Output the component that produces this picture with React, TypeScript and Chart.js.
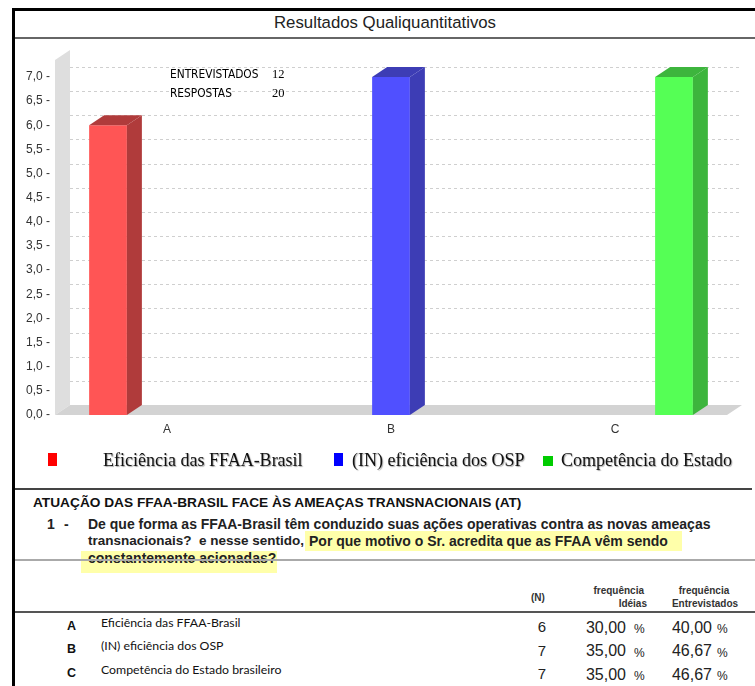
import React, { useEffect, useRef } from "react";
import { Chart, registerables } from "chart.js";

Chart.register(...registerables);

// ---------- data ----------
const CATEGORIES = ["A", "B", "C"];
const SERIES_NAMES = [
  "Eficiência das FFAA-Brasil",
  "(IN) eficiência dos OSP",
  "Competência do Estado",
];
const SERIES_A: (number | null)[] = [6, null, null];
const SERIES_B: (number | null)[] = [null, 7, null];
const SERIES_C: (number | null)[] = [null, null, 7];
const Y_TICKS = [0, 0.5, 1, 1.5, 2, 2.5, 3, 3.5, 4, 4.5, 5, 5.5, 6, 6.5, 7];
const Y_MAX = 7.35;

const ENTREVISTADOS = 12;
const RESPOSTAS = 20;

const TITLE = "Resultados Qualiquantitativos";
const SECTION = "ATUAÇÃO DAS FFAA-BRASIL FACE ÀS AMEAÇAS TRANSNACIONAIS (AT)";
const Q_LINE1 = "De que forma as FFAA-Brasil têm conduzido suas ações operativas contra as novas ameaças";
const Q_LINE2A = "transnacionais?\u00a0 e nesse sentido,";
const Q_LINE2B = "Por que motivo o Sr. acredita que as FFAA vêm sendo";
const Q_LINE3 = "constantemente acionadas?";

const TABLE_LETTERS = ["A", "B", "C"];
const TABLE_LABELS = [
  "Eficiência das FFAA-Brasil",
  "(IN) eficiência dos OSP",
  "Competência do Estado brasileiro",
];
const TABLE_N = [6, 7, 7];
const TABLE_FREQ_IDEIAS = ["30,00", "35,00", "35,00"];
const TABLE_FREQ_ENTREV = ["40,00", "46,67", "46,67"];

// ---------- styles ----------
const FRONT_COLORS = ["#ff5555", "#5050ff", "#55ff55"];
const SIDE_COLORS = ["#b03b3b", "#3d3db5", "#3db53d"];
const LEGEND_COLORS = ["#ff0000", "#0000ff", "#00cc00"];
const DX = 15;
const DY = 10;
const SANS = "'Liberation Sans', Arial, sans-serif";
const SERIF = "'Liberation Serif', 'Times New Roman', serif";
const NARROW = "'Liberation Sans Narrow', 'DejaVu Sans Condensed', sans-serif";

const threeD = {
  id: "threeD",
  beforeDatasetsDraw(chart: any) {
    const { ctx, chartArea, scales } = chart;
    const { left, right, top, bottom } = chartArea;
    const y = scales.y;
    ctx.save();
    ctx.fillStyle = "#dedede";
    ctx.beginPath();
    ctx.moveTo(left, top);
    ctx.lineTo(left + DX, top - DY);
    ctx.lineTo(left + DX, bottom - DY);
    ctx.lineTo(left, bottom);
    ctx.closePath();
    ctx.fill();
    ctx.fillStyle = "#d3d3d3";
    ctx.beginPath();
    ctx.moveTo(left, bottom);
    ctx.lineTo(left + DX, bottom - DY);
    ctx.lineTo(right + DX, bottom - DY);
    ctx.lineTo(right, bottom);
    ctx.closePath();
    ctx.fill();
    ctx.strokeStyle = "#cfcfcf";
    ctx.lineWidth = 1;
    ctx.setLineDash([3, 3]);
    for (const v of Y_TICKS) {
      if (v === 0) continue;
      const py = Math.round(y.getPixelForValue(v) - DY) + 0.5;
      ctx.beginPath();
      ctx.moveTo(left + DX, py);
      ctx.lineTo(right + DX, py);
      ctx.stroke();
    }
    ctx.restore();
  },
  afterDatasetsDraw(chart: any) {
    const { ctx } = chart;
    ctx.save();
    chart.data.datasets.forEach((ds: any, i: number) => {
      const meta = chart.getDatasetMeta(i);
      meta.data.forEach((bar: any, j: number) => {
        if (ds.data[j] == null) return;
        const { x, y, base, width } = bar.getProps(["x", "y", "base", "width"], true);
        const x1 = x - width / 2;
        const x2 = x + width / 2;
        ctx.fillStyle = SIDE_COLORS[i];
        ctx.beginPath();
        ctx.moveTo(x1, y);
        ctx.lineTo(x1 + DX, y - DY);
        ctx.lineTo(x2 + DX, y - DY);
        ctx.lineTo(x2, y);
        ctx.closePath();
        ctx.fill();
        ctx.beginPath();
        ctx.moveTo(x2, y);
        ctx.lineTo(x2 + DX, y - DY);
        ctx.lineTo(x2 + DX, base - DY);
        ctx.lineTo(x2, base);
        ctx.closePath();
        ctx.fill();
      });
    });
    ctx.restore();
  },
};

function Txt(props: {
  x: number;
  y: number;
  size: number;
  children: React.ReactNode;
  family?: string;
  bold?: boolean;
  color?: string;
  align?: "left" | "right" | "center";
  extra?: React.CSSProperties;
}) {
  const { x, y, size, children, family = SANS, bold, color = "#222", align = "left", extra } = props;
  const lh = Math.round(size * 1.2);
  const style: React.CSSProperties = {
    position: "absolute",
    top: y - lh / 2,
    lineHeight: `${lh}px`,
    fontSize: size,
    fontFamily: family,
    fontWeight: bold ? "bold" : "normal",
    color,
    whiteSpace: "nowrap",
    ...extra,
  };
  if (align === "left") style.left = x;
  else if (align === "right") style.right = 755 - x;
  else {
    style.left = x - 300;
    style.width = 600;
    style.textAlign = "center";
  }
  return <div style={style}>{children}</div>;
}

function Rect(p: { x: number; y: number; w: number; h: number; c: string }) {
  return (
    <div
      style={{ position: "absolute", left: p.x, top: p.y, width: p.w, height: p.h, background: p.c }}
    />
  );
}

export default function App() {
  const ref = useRef<HTMLCanvasElement | null>(null);

  useEffect(() => {
    if (!ref.current) return;
    const chart = new Chart(ref.current, {
      type: "bar",
      data: {
        labels: CATEGORIES,
        datasets: [SERIES_A, SERIES_B, SERIES_C].map((d, i) => ({
          label: SERIES_NAMES[i],
          data: d,
          backgroundColor: FRONT_COLORS[i],
          borderWidth: 0,
          categoryPercentage: 0.79,
          barPercentage: 0.64,
        })),
      },
      options: {
        animation: false,
        responsive: false,
        maintainAspectRatio: false,
        layout: { padding: { left: 0, right: 28, top: 20, bottom: 40 } },
        plugins: { legend: { display: false }, tooltip: { enabled: false } },
        scales: {
          x: {
            grid: { display: false, drawTicks: false },
            border: { display: false },
            ticks: { color: "#333", font: { family: SANS, size: 12 }, padding: 7 },
            afterFit: (s: any) => {
              s.height = 30;
            },
          },
          y: {
            min: 0,
            max: Y_MAX,
            grid: { display: false, drawTicks: false },
            border: { display: false },
            afterBuildTicks: (s: any) => {
              s.ticks = Y_TICKS.map((v) => ({ value: v }));
            },
            ticks: {
              color: "#333",
              font: { family: SANS, size: 12 },
              padding: 5,
              callback: (v: any) => Number(v).toFixed(1).replace(".", ",") + " -",
            },
            afterFit: (s: any) => {
              s.width = 55;
            },
          },
        },
      },
      plugins: [threeD],
    });
    return () => chart.destroy();
  }, []);

  const legendPos = [
    { sq: [48, 453, 9, 13], tx: 103 },
    { sq: [334, 453, 9, 13], tx: 352 },
    { sq: [543, 456, 10, 10], tx: 561 },
  ];

  return (
    <div
      style={{
        position: "absolute",
        left: 0,
        top: 0,
        width: 755,
        height: 686,
        overflow: "hidden",
        background: "#fff",
      }}
    >
      {/* frame */}
      <Rect x={12} y={8} w={3} h={678} c="#000" />
      <Rect x={12} y={8} w={743} h={3} c="#000" />
      <Txt x={385} y={23} size={16.8} align="center" color="#222">
        {TITLE}
      </Txt>
      <Rect x={15} y={37} w={740} h={2} c="#666" />

      <canvas
        ref={ref}
        width={755}
        height={445}
        style={{ position: "absolute", left: 0, top: 40, width: 755, height: 445 }}
      />

      {/* annotation */}
      <Txt x={170} y={74} size={11.8} family={NARROW} color="#000">
        ENTREVISTADOS
      </Txt>
      <Txt x={272} y={74} size={12.5} family={SERIF} color="#000">
        {ENTREVISTADOS}
      </Txt>
      <Txt x={170} y={93} size={11.8} family={NARROW} color="#000">
        RESPOSTAS
      </Txt>
      <Txt x={272} y={93} size={12.5} family={SERIF} color="#000">
        {RESPOSTAS}
      </Txt>

      {/* legend */}
      {SERIES_NAMES.map((n, i) => (
        <React.Fragment key={n}>
          <Rect
            x={legendPos[i].sq[0]}
            y={legendPos[i].sq[1]}
            w={legendPos[i].sq[2]}
            h={legendPos[i].sq[3]}
            c={LEGEND_COLORS[i]}
          />
          <Txt
            x={legendPos[i].tx}
            y={460}
            size={18}
            family={SERIF}
            color="#111"
            extra={{ textShadow: "1px 1px 1px #aaa" }}
          >
            {n}
          </Txt>
        </React.Fragment>
      ))}

      <Rect x={15} y={488} w={737} h={1.5} c="#444" />

      {/* section text */}
      <Txt x={33} y={503} size={13.7} bold color="#111">
        {SECTION}
      </Txt>
      <Rect x={305} y={531} w={377} h={20} c="#ffffaa" />
      <Rect x={81} y={551} w={196} h={22} c="#ffffaa" />
      <Txt x={47} y={524} size={14} bold color="#222">
        1
      </Txt>
      <Txt x={64} y={524} size={14} bold color="#222">
        -
      </Txt>
      <Txt x={88} y={524} size={14} bold color="#222">
        {Q_LINE1}
      </Txt>
      <Txt x={88} y={541} size={13.5} bold color="#222">
        {Q_LINE2A}
      </Txt>
      <Txt x={309} y={541} size={14} bold color="#222">
        {Q_LINE2B}
      </Txt>
      <Txt x={88} y={558} size={14} bold color="#222">
        {Q_LINE3}
      </Txt>
      <Rect x={15} y={559} w={740} h={2} c="#aaa" />

      {/* table header */}
      <Txt x={531} y={598} size={10} bold color="#333">
        (N)
      </Txt>
      <Txt x={644} y={591} size={10} bold color="#333" align="right">
        frequência
      </Txt>
      <Txt x={647} y={604} size={10} bold color="#333" align="right">
        Idéias
      </Txt>
      <Txt x={704} y={591} size={10} bold color="#333" align="center">
        frequência
      </Txt>
      <Txt x={705} y={604} size={10} bold color="#333" align="center">
        Entrevistados
      </Txt>
      <Rect x={15} y={611} w={740} h={1.5} c="#555" />

      {/* table rows */}
      {TABLE_LETTERS.map((l, i) => {
        const yy = 626 + i * 23.5;
        return (
          <React.Fragment key={l}>
            <Txt x={67} y={yy} size={12.5} bold color="#111">
              {l}
            </Txt>
            <Txt x={101} y={yy - 4} size={12.3} family="Lato, 'Open Sans', sans-serif" color="#111">
              {TABLE_LABELS[i]}
            </Txt>
            <Txt x={546} y={yy + 1} size={15} color="#222" align="right">
              {TABLE_N[i]}
            </Txt>
            <Txt x={626} y={yy + 1} size={16} color="#222" align="right">
              {TABLE_FREQ_IDEIAS[i]}
            </Txt>
            <Txt x={634} y={yy + 3} size={12} color="#222">
              %
            </Txt>
            <Txt x={712} y={yy + 1} size={16} color="#222" align="right">
              {TABLE_FREQ_ENTREV[i]}
            </Txt>
            <Txt x={717} y={yy + 3} size={12} color="#222">
              %
            </Txt>
          </React.Fragment>
        );
      })}
    </div>
  );
}
